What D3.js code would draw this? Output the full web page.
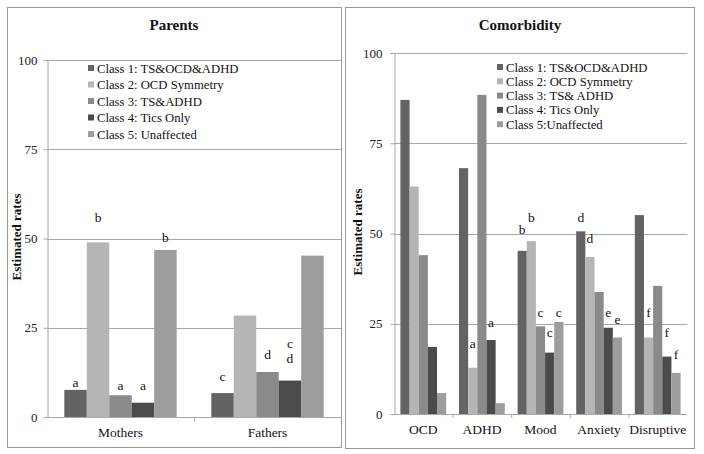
<!DOCTYPE html>
<html>
<head>
<meta charset="utf-8">
<script src="https://cdn.jsdelivr.net/npm/d3@7/dist/d3.min.js"></script>
<style>
  html, body { margin: 0; padding: 0; background: #fff; }
  svg { display: block; }
</style>
</head>
<body>
<svg id="chart" width="704" height="454" font-family="'Liberation Serif', Tinos, 'Times New Roman', Times, 'DejaVu Serif', serif"></svg>
<script>
// ---------- DATA ----------
const classKeys = ["c1", "c2", "c3", "c4", "c5"];
const colors = ["#636363", "#b5b5b5", "#8a8a8a", "#4b4b4b", "#9d9d9d"];

const parentsCategories = ["Mothers", "Fathers"];
const parentsLegend = ["Class 1: TS&OCD&ADHD", "Class 2: OCD Symmetry", "Class 3: TS&ADHD", "Class 4: Tics Only", "Class 5: Unaffected"];
const parentsC1 = [7.6, 6.7];
const parentsC2 = [48.9, 28.4];
const parentsC3 = [6.1, 12.6];
const parentsC4 = [4.0, 10.2];
const parentsC5 = [46.8, 45.2];
// [category, class index, letter, level (value units)]
const parentsLetters = [
  ["Mothers", 0, "a", 8.4], ["Mothers", 1, "b", 54.6], ["Mothers", 2, "a", 7.6],
  ["Mothers", 3, "a", 7.6], ["Mothers", 4, "b", 49.0],
  ["Fathers", 0, "c", 10.1], ["Fathers", 2, "d", 16.2],
  ["Fathers", 3, "c", 19.3], ["Fathers", 3, "d", 15.1]
];

const comorbCategories = ["OCD", "ADHD", "Mood", "Anxiety", "Disruptive"];
const comorbLegend = ["Class 1: TS&OCD&ADHD", "Class 2: OCD Symmetry", "Class 3: TS& ADHD", "Class 4: Tics Only", "Class 5:Unaffected"];
const comorbC1 = [87.0, 68.1, 45.2, 50.6, 55.1];
const comorbC2 = [63.0, 12.8, 47.9, 43.5, 21.2];
const comorbC3 = [44.0, 88.4, 24.3, 33.8, 35.5];
const comorbC4 = [18.6, 20.5, 17.0, 23.9, 15.9];
const comorbC5 = [5.8, 3.0, 25.5, 21.2, 11.4];
const comorbLetters = [
  ["ADHD", 1, "a", 18.3], ["ADHD", 3, "a", 24.1],
  ["Mood", 0, "b", 49.9], ["Mood", 1, "b", 53.2], ["Mood", 2, "c", 26.9],
  ["Mood", 3, "c", 21.3], ["Mood", 4, "c", 26.9],
  ["Anxiety", 0, "d", 53.2], ["Anxiety", 1, "d", 47.4], ["Anxiety", 3, "e", 26.9],
  ["Anxiety", 4, "e", 24.9],
  ["Disruptive", 1, "f", 26.9], ["Disruptive", 3, "f", 21.3], ["Disruptive", 4, "f", 15.2]
];

const yTicks = [0, 25, 50, 75, 100];
const yTitle = "Estimated rates";

// ---------- DRAW ----------
const svg = d3.select("#chart");
const gridColor = "#a8a8a8";
const borderColor = "#9a9a9a";
const textColor = "#111111";

function panel(cfg) {
  const g = svg.append("g");
  g.append("rect")
    .attr("x", cfg.box[0] + 0.5).attr("y", cfg.box[1] + 0.5)
    .attr("width", cfg.box[2] - cfg.box[0]).attr("height", cfg.box[3] - cfg.box[1])
    .attr("fill", "#fff").attr("stroke", borderColor).attr("stroke-width", 1);

  const y = d3.scaleLinear().domain([0, 100]).range([cfg.yBottom, cfg.yTop]);
  const x0 = d3.scaleBand().domain(cfg.categories).range([cfg.xLeft, cfg.xRight]).padding(0);
  const x1 = d3.scaleBand().domain(classKeys).range([0, x0.bandwidth()])
    .paddingInner(0).paddingOuter(cfg.outerPad);

  // gridlines
  g.append("g").selectAll("line").data(yTicks.filter(t => t > 0)).join("line")
    .attr("x1", cfg.xLeft).attr("x2", cfg.xRight)
    .attr("y1", d => Math.round(y(d)) + 0.5).attr("y2", d => Math.round(y(d)) + 0.5)
    .attr("stroke", gridColor).attr("stroke-width", 1);

  // y axis
  const yAxis = g.append("g")
    .attr("transform", `translate(${cfg.xLeft + 0.5},0)`)
    .call(d3.axisLeft(y).tickValues(yTicks).tickSize(4).tickPadding(cfg.tickPad).tickFormat(d3.format("d")));
  yAxis.attr("font-family", null).attr("font-size", null);
  yAxis.select(".domain").attr("stroke", gridColor);
  yAxis.selectAll(".tick line").attr("stroke", gridColor);
  yAxis.selectAll(".tick text").attr("font-size", 13).attr("fill", "#222");

  // bars
  const rows = cfg.categories.map((c, i) => ({ cat: c, vals: cfg.series.map(s => s[i]) }));
  const grp = g.append("g").selectAll("g").data(rows).join("g")
    .attr("transform", d => `translate(${x0(d.cat)},0)`);
  grp.selectAll("rect").data(d => d.vals.map((v, k) => ({ k, v }))).join("rect")
    .attr("x", d => x1(classKeys[d.k]))
    .attr("width", x1.bandwidth())
    .attr("y", d => y(d.v))
    .attr("height", d => y(0) - y(d.v))
    .attr("fill", d => colors[d.k]);

  // x axis line & group ticks
  g.append("line")
    .attr("x1", cfg.xLeft).attr("x2", cfg.xRight)
    .attr("y1", Math.round(y(0)) + 0.5).attr("y2", Math.round(y(0)) + 0.5)
    .attr("stroke", gridColor);
  const edges = cfg.categories.slice(1).map(c => x0(c));
  g.append("g").selectAll("line").data(edges).join("line")
    .attr("x1", d => d + 0.5).attr("x2", d => d + 0.5)
    .attr("y1", y(0)).attr("y2", y(0) + 4)
    .attr("stroke", gridColor);

  // category labels
  g.append("g").selectAll("text").data(cfg.categories).join("text")
    .attr("x", d => x0(d) + x0.bandwidth() / 2)
    .attr("y", cfg.catBaseline)
    .attr("text-anchor", "middle").attr("font-size", 13.5).attr("fill", textColor)
    .text(d => d);

  // letters
  g.append("g").selectAll("text").data(cfg.letters).join("text")
    .attr("x", d => x0(d[0]) + x1(classKeys[d[1]]) + x1.bandwidth() / 2)
    .attr("y", d => y(d[3]))
    .attr("text-anchor", "middle").attr("font-size", 13.5).attr("fill", textColor)
    .text(d => d[2]);

  // title
  g.append("text")
    .attr("x", cfg.titleX).attr("y", 30)
    .attr("text-anchor", "middle").attr("font-size", 15).attr("font-weight", "bold")
    .attr("fill", textColor)
    .text(cfg.title);

  // y title
  g.append("text")
    .attr("transform", `translate(${cfg.yTitleX},${cfg.yTitleY}) rotate(-90)`)
    .attr("text-anchor", "middle").attr("font-size", 13).attr("font-weight", "bold")
    .attr("fill", textColor)
    .text(yTitle);

  // legend
  const lg = g.append("g").selectAll("g").data(cfg.legend).join("g")
    .attr("transform", (d, i) => `translate(${cfg.legendX},${cfg.legendY + i * cfg.legendStep})`);
  lg.append("rect").attr("x", 0).attr("y", -3).attr("width", 6).attr("height", 6)
    .attr("fill", (d, i) => colors[i]);
  lg.append("text").attr("x", 9).attr("y", 4.5).attr("font-size", 12.7)
    .attr("fill", textColor).text(d => d);
}

panel({
  box: [7, 7, 341, 447],
  title: "Parents", titleX: 174,
  categories: parentsCategories,
  series: [parentsC1, parentsC2, parentsC3, parentsC4, parentsC5],
  letters: parentsLetters,
  legend: parentsLegend,
  xLeft: 47, xRight: 341, yTop: 60, yBottom: 417, outerPad: 0.77,
  tickPad: 6, catBaseline: 437,
  yTitleX: 21, yTitleY: 237,
  legendX: 88, legendY: 68, legendStep: 16.5
});

panel({
  box: [345, 7, 694, 448],
  title: "Comorbidity", titleX: 520,
  categories: comorbCategories,
  series: [comorbC1, comorbC2, comorbC3, comorbC4, comorbC5],
  letters: comorbLetters,
  legend: comorbLegend,
  xLeft: 394, xRight: 687, yTop: 53, yBottom: 414, outerPad: 0.7,
  tickPad: 8, catBaseline: 434,
  yTitleX: 362, yTitleY: 232,
  legendX: 497, legendY: 67, legendStep: 14.3
});
</script>
</body>
</html>
